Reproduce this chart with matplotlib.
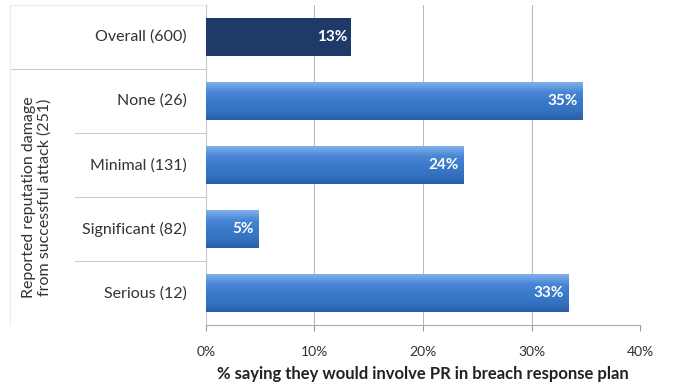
import matplotlib.pyplot as plt
import matplotlib.transforms as mtransforms
from matplotlib.colors import LinearSegmentedColormap
import numpy as np

categories = ['Overall (600)', 'None (26)', 'Minimal (131)', 'Significant (82)', 'Serious (12)']
values = [13.4, 34.7, 23.7, 4.8, 33.4]
value_labels = ['13%', '35%', '24%', '5%', '33%']
bar_colors = ['#1f3a68', '#3b7acb', '#3b7acb', '#3b7acb', '#3b7acb']
group_label = 'Reported reputation damage\nfrom successful attack (251)'
xlabel = '% saying they would involve PR in breach response plan'

plt.rcParams['font.family'] = ['Lato', 'DejaVu Sans']

fig = plt.figure(figsize=(6.74, 3.87), dpi=100)
ax = fig.add_axes([0.3056, 0.160, 0.644, 0.827])

y = np.arange(len(categories))
bh = 0.58
bars = ax.barh(y, values, height=bh, color=bar_colors, zorder=3)

# vertical gradient (light top, darker bottom) on the blue bars
blue_grad = LinearSegmentedColormap.from_list(
    'bluegrad', ['#7fb0ea', '#4a88d6', '#3b7acb', '#3672c2', '#2a5fa8'])
grad = np.linspace(0, 1, 64).reshape(-1, 1)
for b, c in zip(bars, bar_colors):
    if c == bar_colors[0]:
        continue
    x0, y0, w, h = b.get_x(), b.get_y(), b.get_width(), b.get_height()
    ax.imshow(grad, cmap=blue_grad, aspect='auto', zorder=3.5,
              extent=(x0, x0 + w, y0 + h, y0), interpolation='bicubic')

for yi, v, lab in zip(y, values, value_labels):
    ax.text(v - 0.4, yi, lab, ha='right', va='center', color='white',
            fontsize=11, fontweight='bold', zorder=4)

ax.set_xlim(0, 40)
ax.set_ylim(4.5, -0.5)
ax.set_aspect('auto')
ax.set_xticks([0, 10, 20, 30, 40])
ax.set_xticklabels(['0%', '10%', '20%', '30%', '40%'], fontsize=10, color='#333333')
ax.set_yticks([])
ax.tick_params(axis='x', length=4, color='#999999', pad=11)
ax.grid(axis='x', color='#bbbbbb', linewidth=0.8, zorder=0)
ax.set_xlabel(xlabel, fontsize=12, fontweight='bold', color='#222222', labelpad=6)

for side in ['top', 'right']:
    ax.spines[side].set_visible(False)
ax.spines['left'].set_color('#cccccc')
ax.spines['bottom'].set_color('#aaaaaa')

trans = mtransforms.blended_transform_factory(ax.transAxes, ax.transData)
for yi, cat in zip(y, categories):
    ax.text(-0.045, yi, cat, transform=trans, ha='right', va='center',
            fontsize=11.5, color='#333333')

# separator lines of the label table
ax.plot([-0.452, 0], [0.5, 0.5], transform=trans, color='#cccccc', lw=0.8, clip_on=False)
for s in [1.5, 2.5, 3.5]:
    ax.plot([-0.302, 0], [s, s], transform=trans, color='#cccccc', lw=0.8, clip_on=False)
ax.plot([-0.452, 0], [-0.5, -0.5], transform=trans, color='#ececec', lw=0.8, clip_on=False)
ax.plot([-0.452, -0.452], [-0.5, 4.5], transform=trans, color='#ececec', lw=0.8, clip_on=False)

ax.text(-0.39, 2.5, group_label, transform=trans, rotation=90, ha='center', va='center',
        fontsize=11.5, color='#333333', linespacing=1.15)

fig.savefig('out.png', dpi=100)
